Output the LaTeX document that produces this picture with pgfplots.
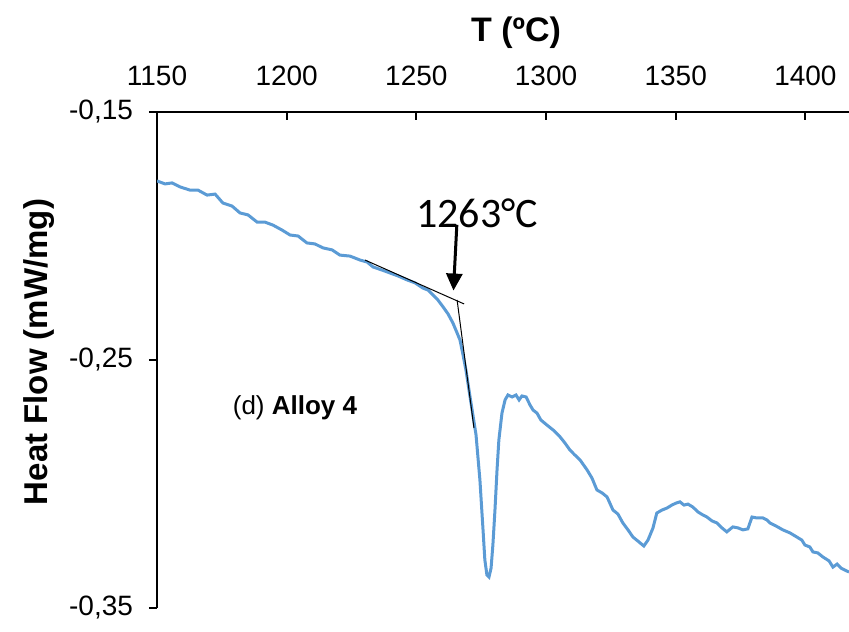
\documentclass[border=0pt]{standalone}
\usepackage{fontspec}
\setmainfont{Liberation Sans}
\newfontfamily\calibri{Carlito}
\usepackage{pgfplots}
\pgfplotsset{compat=1.18}
\usetikzlibrary{arrows.meta}
\definecolor{curve}{RGB}{91,155,213}

\pgfplotstableread{
x y
1150.0 -0.1778
1153.1 -0.1790
1155.8 -0.1786
1158.9 -0.1802
1162.7 -0.1815
1165.8 -0.1815
1169.3 -0.1835
1172.4 -0.1831
1175.4 -0.1867
1178.9 -0.1879
1182.0 -0.1907
1185.1 -0.1915
1188.6 -0.1944
1191.6 -0.1944
1194.7 -0.1956
1198.2 -0.1976
1201.3 -0.1996
1204.4 -0.2000
1207.8 -0.2028
1210.9 -0.2032
1214.0 -0.2048
1217.5 -0.2056
1220.5 -0.2077
1224.4 -0.2081
1228.3 -0.2097
1231.0 -0.2105
1233.3 -0.2125
1236.7 -0.2137
1239.8 -0.2149
1242.9 -0.2161
1246.4 -0.2177
1249.5 -0.2189
1252.5 -0.2210
1254.5 -0.2218
1256.4 -0.2238
1258.3 -0.2258
1260.3 -0.2286
1262.2 -0.2314
1264.1 -0.2351
1265.7 -0.2391
1266.8 -0.2419
1268.0 -0.2480
1269.1 -0.2540
1270.7 -0.2649
1271.8 -0.2722
1273.0 -0.2802
1274.5 -0.2984
1275.7 -0.3185
1276.4 -0.3306
1277.2 -0.3367
1278.0 -0.3375
1278.8 -0.3339
1279.5 -0.3246
1280.3 -0.3105
1281.1 -0.2943
1281.8 -0.2823
1283.0 -0.2714
1284.2 -0.2661
1285.3 -0.2641
1286.9 -0.2649
1288.4 -0.2641
1289.6 -0.2661
1290.7 -0.2645
1292.3 -0.2649
1293.8 -0.2681
1295.0 -0.2702
1296.5 -0.2714
1298.0 -0.2742
1300.3 -0.2762
1302.7 -0.2782
1305.4 -0.2810
1307.3 -0.2835
1309.2 -0.2863
1311.1 -0.2883
1313.1 -0.2903
1315.8 -0.2943
1317.7 -0.2976
1319.6 -0.3024
1321.6 -0.3036
1323.5 -0.3052
1325.8 -0.3105
1327.7 -0.3121
1329.6 -0.3157
1331.6 -0.3185
1333.5 -0.3214
1335.4 -0.3230
1337.7 -0.3250
1339.3 -0.3226
1341.2 -0.3178
1342.7 -0.3117
1344.7 -0.3105
1346.6 -0.3097
1348.5 -0.3085
1350.1 -0.3077
1351.6 -0.3072
1353.2 -0.3085
1354.7 -0.3081
1356.6 -0.3093
1358.6 -0.3113
1360.5 -0.3125
1362.0 -0.3133
1364.0 -0.3149
1365.9 -0.3157
1367.8 -0.3177
1369.7 -0.3193
1372.0 -0.3173
1374.0 -0.3177
1375.9 -0.3185
1377.8 -0.3181
1379.4 -0.3133
1381.3 -0.3137
1383.6 -0.3137
1385.2 -0.3145
1386.3 -0.3157
1388.6 -0.3169
1391.3 -0.3185
1394.0 -0.3197
1396.7 -0.3214
1398.6 -0.3226
1399.8 -0.3246
1401.7 -0.3254
1402.9 -0.3274
1404.8 -0.3278
1406.7 -0.3294
1409.1 -0.3310
1410.6 -0.3335
1412.2 -0.3323
1413.7 -0.3339
1415.2 -0.3347
1416.8 -0.3355
}\dsc

\begin{document}
\begin{tikzpicture}
\begin{axis}[
  at={(0,0)}, anchor=south west,
  scale only axis, width=346pt, height=248pt,
  xmin=1150, xmax=1416.8, ymin=-0.35, ymax=-0.15,
  axis x line=top, axis y line=left,
  axis line style={-, line width=1pt, black},
  xtick={1150,1200,...,1400},
  ytick={-0.35,-0.25,-0.15},
  yticklabels={{-0,35},{-0,25},{-0,15}},
  xtick align=inside, ytick align=outside,
  major tick length=4pt,
  tick style={black, line width=1pt},
  tick label style={font=\fontsize{14}{16}\selectfont},
  x tick label style={/pgf/number format/1000 sep={}, /pgf/number format/assume math mode=true, yshift=9.5pt},
  y tick label style={xshift=-4.5pt},
  xlabel={\textbf{T (ºC)}},
  ylabel={\textbf{Heat Flow (mW/mg)}},
  every axis x label/.style={at={(axis description cs:0.519,1.16)}, anchor=center, font=\fontsize{17}{20}\selectfont},
  every axis y label/.style={at={(axis description cs:-0.170,0.516)}, anchor=center, rotate=90, font=\fontsize{16.5}{20}\selectfont},
]
\addplot[curve, line width=1.5pt] table[x=x, y=y] {\dsc};
\addplot[black, line width=0.5pt] coordinates {(1230.2,-0.2097) (1268.4,-0.2274)};
\addplot[black, line width=0.5pt] coordinates {(1265.7,-0.2258) (1272.2,-0.2774)};
\addplot[black, line width=1.5pt, -{Triangle[length=8.5pt, width=8pt]}] coordinates {(1265.6,-0.1955) (1264.3,-0.2220)};
\node[font=\calibri\fontsize{21}{24}\selectfont, anchor=center] at (axis cs:1273.4,-0.1907) {1263°C};
\node[font=\fontsize{13}{16}\selectfont, anchor=center] at (axis cs:1203.2,-0.2693) {(d) \textbf{Alloy 4}};
\end{axis}
\pgfresetboundingbox
\path[use as bounding box] (-78.5pt,-11.5pt) rectangle (346pt,304pt);
\end{tikzpicture}
\end{document}
